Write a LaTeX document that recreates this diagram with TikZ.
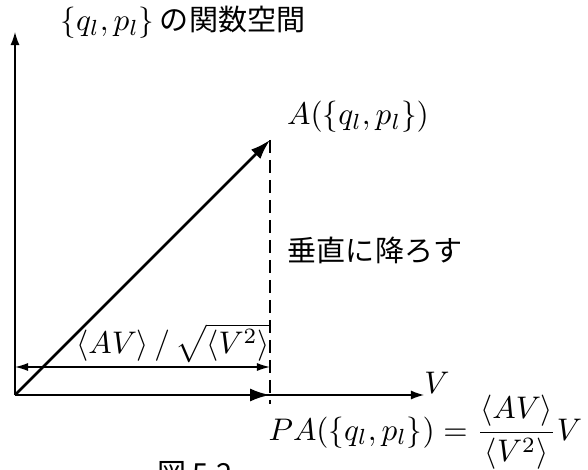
\documentclass[tikz,border=0pt]{standalone}
\usepackage{fontspec}
\usepackage{amsmath}
\newfontfamily\jpfont{Noto Sans CJK JP}
\usetikzlibrary{arrows.meta}
\begin{document}
\begin{tikzpicture}[x=0.32pt,y=-0.32pt,
  thinline/.style={line width=0.42pt},
  thickline/.style={line width=0.85pt},
  axisarrow/.style={thinline,-{Latex[length=4.2pt,width=2.9pt]}},
  vecarrow/.style={thickline,-{Latex[length=6.4pt,width=4.2pt]}},
  dimarrow/.style={thinline,{Latex[length=4.2pt,width=2.6pt]}-{Latex[length=4.2pt,width=2.6pt]}},
  dashline/.style={thinline,dash pattern=on 4.2pt off 2.2pt},
  mathlabel/.style={inner sep=0pt,font=\fontsize{10.3}{12}\selectfont},
  biglabel/.style={inner sep=0pt,font=\fontsize{10.2}{13}\selectfont},
  jplabel/.style={inner sep=0pt,font=\fontsize{9.3}{11}\selectfont\jpfont}]
\useasboundingbox (0,0) rectangle (588,470);
\coordinate (O) at (15,395);
\coordinate (Ytop) at (15,32);
\coordinate (Xend) at (424,395);
\coordinate (A) at (270,140);
\coordinate (P) at (270,395);
\coordinate (Dend) at (270,404);
\coordinate (L) at (15,367);
\coordinate (R) at (270,367);
% axes
\draw[axisarrow] (O) -- (Ytop);
\draw[axisarrow] (O) -- (Xend);
% vectors
\draw[vecarrow] (O) -- (A);
\draw[vecarrow] (O) -- (P);
% perpendicular
\draw[dashline] (A) -- (Dend);
% dimension
\draw[dimarrow] (L) -- (R);
% labels
\node[mathlabel,anchor=base west] (head) at (60,31) {$\{q_l,p_l\}$\,{\jpfont\fontsize{9.3}{11}\selectfont の関数空間}};
\node[mathlabel] (Alab) at (358,117) {$A(\{q_l,p_l\})$};
\node[mathlabel] (Vlab) at (437,383) {$V$};
\node[jplabel] (drop) at (375,250) {垂直に降ろす};
\node[mathlabel,anchor=base east] (dim) at (270.5,353) {$\langle AV\rangle \,/\, \sqrt{\langle V^2\rangle}$};
\node[biglabel,anchor=base west] (PA) at (268,440) {$PA(\{q_l,p_l\}) = \dfrac{\langle AV\rangle}{\langle V^2\rangle}V$};
\node[jplabel,anchor=north] (cap) at (195,461) {図 5.2};
\end{tikzpicture}
\end{document}
